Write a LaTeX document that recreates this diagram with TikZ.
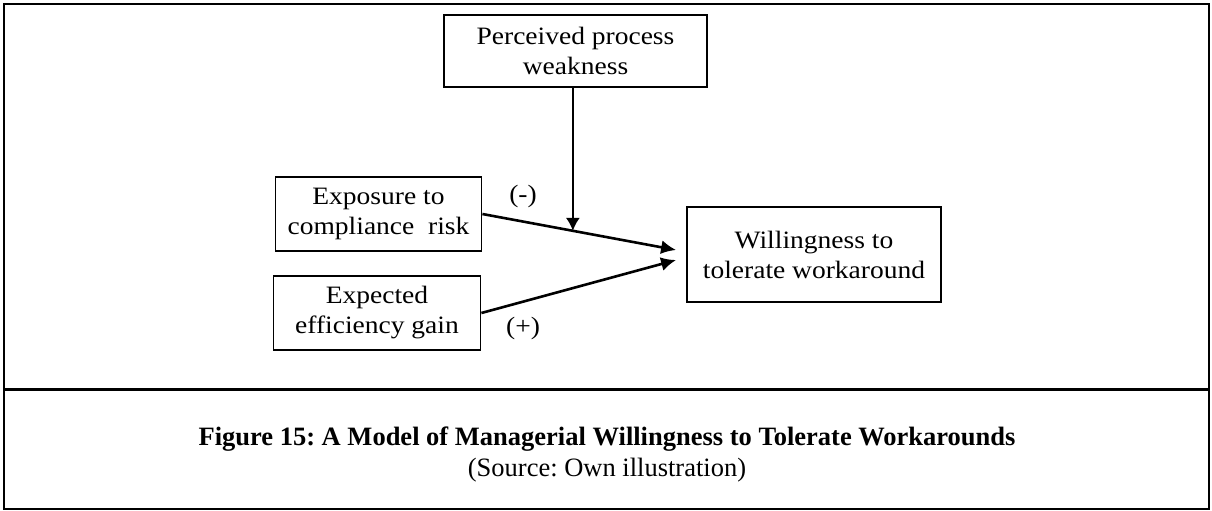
\documentclass[tikz,border=0pt]{standalone}
\usepackage{fontspec}
\setmainfont{Liberation Serif}
\newfontfamily\boxfont[FakeStretch=1.1]{Liberation Serif}
\usetikzlibrary{arrows.meta,calc}
\frenchspacing
\begin{document}
\begin{tikzpicture}[x=1pt,y=-1pt,
  blk/.style={draw,line width=1.8pt,align=center,inner sep=0pt,font=\boxfont\fontsize{25}{30}\selectfont},
  lbl/.style={font=\boxfont\fontsize{25}{30}\selectfont,inner sep=0pt},
  arr/.style={line width=2.6pt,-{Latex[length=15pt,width=14pt]}},
  varr/.style={line width=1.6pt,-{Latex[length=13pt,width=14pt]}}]
\useasboundingbox (0,0) rectangle (1212,511);
\draw[line width=2.2pt] (4,4) rectangle (1209,509);
\draw[line width=3pt] (4,389) -- (1209,389);
\node[blk,minimum width=263pt,minimum height=72pt] (per) at (575.5,51) {Perceived process\\weakness};
\node[blk,minimum width=206pt,minimum height=74pt] (exp) at (378.5,214) {Exposure to\\compliance\ \ risk};
\node[blk,minimum width=207pt,minimum height=74pt] (eff) at (377,313) {Expected\\efficiency gain};
\node[blk,minimum width=254pt,minimum height=95pt] (wil) at (814,254.5) {Willingness to\\tolerate workaround};
\coordinate (t1) at ($(wil.west)+(-10,-4.5)$);
\coordinate (t2) at ($(wil.west)+(-10,5.5)$);
\draw[arr] (exp.east) -- (t1);
\draw[arr] (eff.east) -- (t2);
\coordinate (m) at ($(exp.east)!0.467!(t1)$);
\draw[varr] (per.south -| m) -- (m);
\node[lbl] (minus) at (523,196) {(-)};
\node[lbl] (plus) at (523,328) {(+)};
\node[font=\bfseries\fontsize{26.5}{31}\selectfont,inner sep=0pt] (cap) at (607,439) {Figure 15: A Model of Managerial Willingness to Tolerate Workarounds};
\node[font=\fontsize{26.5}{31}\selectfont,inner sep=0pt] (src) at (607,470) {(Source: Own illustration)};
\end{tikzpicture}
\end{document}
